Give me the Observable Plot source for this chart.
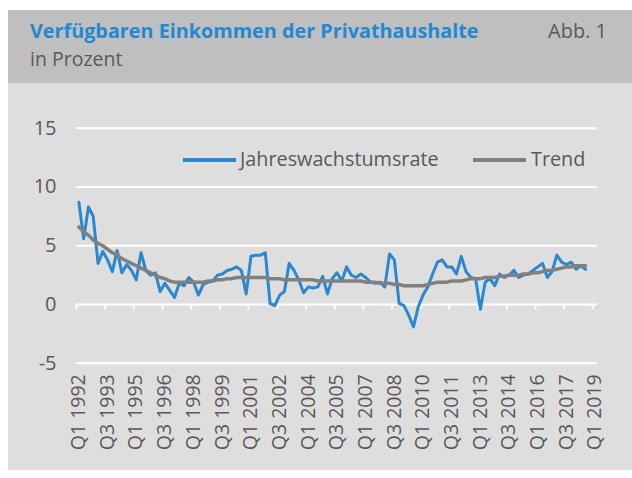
<!DOCTYPE html>
<html><head><meta charset="utf-8">
<script src="https://cdn.jsdelivr.net/npm/d3@7"></script>
<script src="https://cdn.jsdelivr.net/npm/@observablehq/plot@0.6"></script>
<style>
body{margin:0;background:#fff;font-family:"Open Sans",sans-serif;width:632px;height:478px;position:relative;overflow:hidden;}
.abs{position:absolute;}
#panel{left:8px;top:10px;width:624px;height:460px;background:#dedede;}
#header{left:8px;top:10px;width:624px;height:73px;background:#bfbfbf;}
#title{left:30px;top:21px;font-size:19.8px;line-height:20px;font-weight:700;color:#2388d2;white-space:nowrap;}
#abb{left:548px;top:21px;font-size:20px;line-height:20px;color:#595959;white-space:nowrap;}
#sub{left:30px;top:49px;font-size:19.5px;line-height:20px;color:#595959;white-space:nowrap;}
#chart{left:8px;top:83px;}
.leg{font-size:19.8px;line-height:22px;color:#595959;white-space:nowrap;}
.sw{height:4px;}
</style></head>
<body>
<div id="panel" class="abs"></div>
<div id="header" class="abs"></div>
<div id="title" class="abs">Verfügbaren Einkommen der Privathaushalte</div>
<div id="abb" class="abs">Abb. 1</div>
<div id="sub" class="abs">in Prozent</div>
<div id="chart" class="abs"></div>
<div class="abs sw" style="left:183px;top:158px;width:53px;background:#2a87d0"></div>
<div class="abs leg" style="left:240px;top:148px">Jahreswachstumsrate</div>
<div class="abs sw" style="left:473px;top:158px;width:53px;background:#808080"></div>
<div class="abs leg" style="left:531px;top:148px">Trend</div>
<script>
const tickLabels = ["Q1 1992","Q3 1993","Q1 1995","Q3 1996","Q1 1998","Q3 1999","Q1 2001","Q3 2002","Q1 2004","Q3 2005","Q1 2007","Q3 2008","Q1 2010","Q3 2011","Q1 2013","Q3 2014","Q1 2016","Q3 2017","Q1 2019"];
const yTicks = [-5, 0, 5, 10, 15];
const nQuarters = 109; // Q1 1992 .. Q1 2019
const growth = [
 8.7, 5.6, 8.3, 7.5, 3.5, 4.5, 3.8, 2.8, 4.6, 2.7,
 3.4, 2.9, 2.1, 4.4, 2.9, 2.5, 2.7, 1.1, 1.8, 1.2,
 0.6, 1.8, 1.6, 2.3, 1.9, 0.8, 1.7, 1.9, 2.0, 2.5,
 2.6, 2.9, 3.0, 3.2, 2.9, 0.9, 4.1, 4.2, 4.2, 4.4,
 0.1, -0.1, 0.8, 1.1, 3.5, 2.9, 2.1, 1.0, 1.5, 1.4,
 1.5, 2.4, 0.9, 2.2, 2.7, 2.0, 3.2, 2.5, 2.3, 2.6,
 2.3, 1.9, 1.8, 1.9, 1.5, 4.3, 3.8, 0.1, -0.1, -0.9,
 -1.9, -0.2, 0.8, 1.5, 2.6, 3.6, 3.8, 3.2, 3.2, 2.6,
 4.1, 2.8, 2.3, 2.2, -0.4, 1.9, 2.2, 1.6, 2.6, 2.3,
 2.5, 2.9, 2.3, 2.5, 2.6, 2.9, 3.2, 3.5, 2.3, 2.8,
 4.2, 3.6, 3.4, 3.6, 3.0, 3.3, 3.0
];
const trend = [
 6.6, 6.2, 5.9, 5.5, 5.2, 5.0, 4.7, 4.4, 4.2, 3.9,
 3.7, 3.5, 3.3, 3.1, 2.9, 2.7, 2.5, 2.3, 2.2, 2.0,
 1.9, 1.9, 1.9, 1.9, 1.9, 1.9, 1.9, 2.0, 2.0, 2.1,
 2.1, 2.2, 2.2, 2.3, 2.3, 2.3, 2.3, 2.3, 2.3, 2.3,
 2.2, 2.2, 2.2, 2.1, 2.1, 2.1, 2.1, 2.1, 2.1, 2.1,
 2.0, 2.0, 2.0, 2.0, 2.0, 2.0, 2.0, 2.0, 2.0, 2.0,
 1.9, 1.9, 1.9, 1.8, 1.8, 1.8, 1.7, 1.7, 1.6, 1.6,
 1.6, 1.6, 1.6, 1.7, 1.8, 1.9, 1.9, 1.9, 2.0, 2.0,
 2.0, 2.1, 2.2, 2.2, 2.2, 2.3, 2.3, 2.3, 2.4, 2.4,
 2.5, 2.5, 2.5, 2.6, 2.6, 2.7, 2.7, 2.8, 2.9, 2.9,
 3.0, 3.1, 3.2, 3.2, 3.3, 3.3, 3.3
];
const rows = growth.map((g, i) => ({q: i + 0.5, g, t: trend[i]}));
const tickPos = tickLabels.map((_, k) => k * 6);
const labelPos = tickLabels.map((_, k) => k * 6 + 0.5);

const chart = Plot.plot({
  width: 624,
  height: 387,
  marginLeft: 68,
  marginRight: 35,
  marginTop: 44.75,
  marginBottom: 107.25,
  style: {fontFamily: "'Open Sans', sans-serif", fontSize: "19px", color: "#595959", background: "transparent", overflow: "visible"},
  x: {domain: [0, nQuarters], axis: null},
  y: {domain: [-5, 15], axis: null},
  marks: [
    Plot.gridY(yTicks, {stroke: "white", strokeOpacity: 1, strokeWidth: 2}),
    Plot.ruleX(tickPos, {x: d => d, y1: 0, y2: -0.45, stroke: "white", strokeWidth: 2}),
    Plot.axisY(yTicks, {tickSize: 0, tickPadding: 20, fontSize: 20, fill: "#595959", label: null,
      tickFormat: d => String(d)}),
    Plot.axisX(labelPos, {anchor: "bottom", tickSize: 0, tickPadding: 11, tickRotate: -90, fontSize: 19.5, fill: "#595959", label: null,
      tickFormat: d => tickLabels[Math.round((d - 0.5) / 6)]}),
    Plot.line(rows, {x: "q", y: "g", stroke: "#2a87d0", strokeWidth: 3, strokeLinejoin: "round"}),
    Plot.line(rows, {x: "q", y: "t", stroke: "#808080", strokeWidth: 3.5, strokeLinejoin: "round"})
  ]
});
document.getElementById("chart").appendChild(chart);
</script>
</body></html>
